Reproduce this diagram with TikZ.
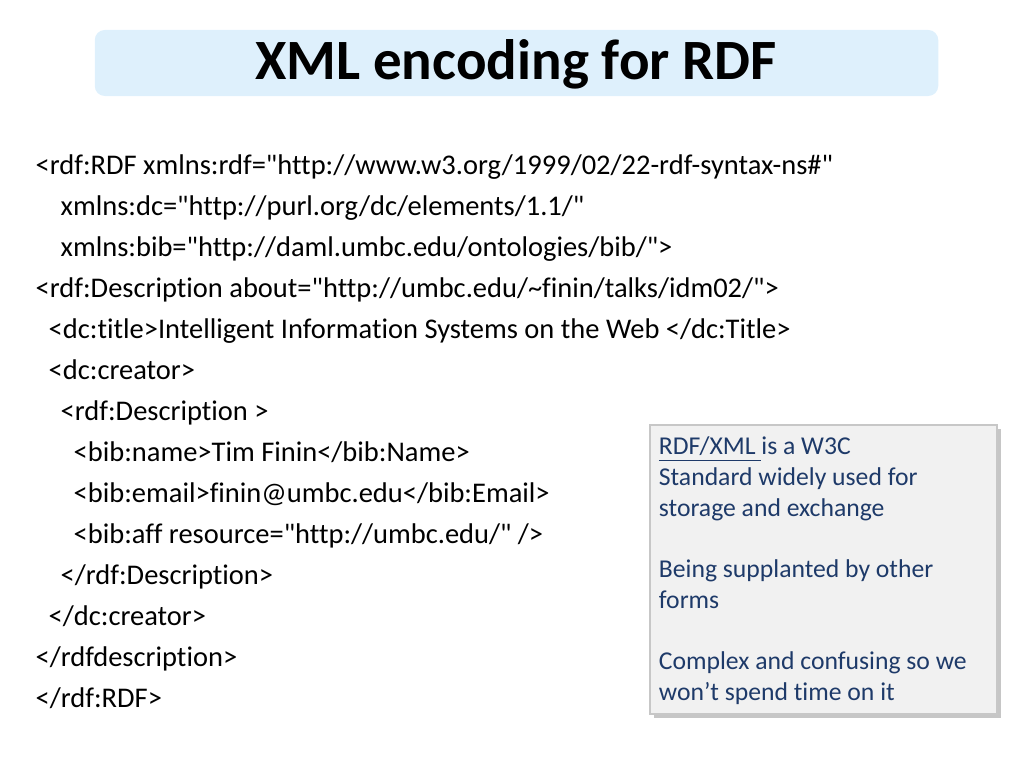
\documentclass[tikz,border=0pt]{standalone}
\usepackage{fontspec}
\newfontfamily\slidefont{Carlito}[Ligatures=NoCommon]
\usetikzlibrary{positioning, shadows}
\definecolor{titleblue}{RGB}{222,240,252}
\definecolor{notefill}{RGB}{241,241,241}
\definecolor{notetext}{RGB}{30,58,105}

\begin{document}
\begin{tikzpicture}[x=0.01cm, y=-0.01cm,
        code/.style={anchor=base west, inner sep=0pt, font=\slidefont\fontsize{8.1pt}{10pt}\selectfont}]
            \useasboundingbox (0,0) rectangle (1024,768);
            % title bar
            \node[fill=titleblue, rounded corners=0.1cm, minimum width=8.43cm, minimum height=0.66cm] (titlebar) at (516.5,63) {};
            \node[font=\slidefont\bfseries\fontsize{16.2pt}{19pt}\selectfont] (title) at (516,64) {XML encoding for RDF};
            % code lines
            \node[code] (l1) at (35,175) {<rdf:RDF xmlns:rdf="http://www.w3.org/1999/02/22-rdf-syntax-ns\#"};
            \node[code] (l2) at (60,216) {xmlns:dc="http://purl.org/dc/elements/1.1/"};
            \node[code] (l3) at (60,257) {xmlns:bib="http://daml.umbc.edu/ontologies/bib/">};
            \node[code] (l4) at (35,298) {<rdf:Description about="http://umbc.edu/\textasciitilde finin/talks/idm02/">};
            \node[code] (l5) at (48,339) {<dc:title>Intelligent Information Systems on the Web </dc:Title>};
            \node[code] (l6) at (48,380) {<dc:creator>};
            \node[code] (l7) at (60,421) {<rdf:Description >};
            \node[code] (l8) at (73,462) {<bib:name>Tim Finin</bib:Name>};
            \node[code] (l9) at (73,503) {<bib:email>finin@umbc.edu</bib:Email>};
            \node[code] (l10) at (73,544) {<bib:aff resource="http://umbc.edu/" />};
            \node[code] (l11) at (60,585) {</rdf:Description>};
            \node[code] (l12) at (48,626) {</dc:creator>};
            \node[code] (l13) at (35,667) {</rdfdescription>};
            \node[code] (l14) at (35,708) {</rdf:RDF>};
            % side note
            \node[draw=black!22, fill=notefill, minimum width=3.47cm, minimum height=2.89cm,
                drop shadow={shadow xshift=0.04cm, shadow yshift=-0.04cm, opacity=0.45}] (note) at (823.5,569.5) {};
            \node[below right=0.12cm and 0.09cm of note.north west, anchor=north west, inner sep=0pt, align=left, text=notetext,
                font=\slidefont\fontsize{7.3pt}{8.73pt}\selectfont] (notetxt)
                {\underline{RDF/XML\ }is a W3C\\Standard widely used for\\storage and exchange\\[8.73pt]
                 Being supplanted by other\\forms\\[8.73pt]
                 Complex and confusing so we\\won’t spend time on it};
        \end{tikzpicture}
\end{document}
